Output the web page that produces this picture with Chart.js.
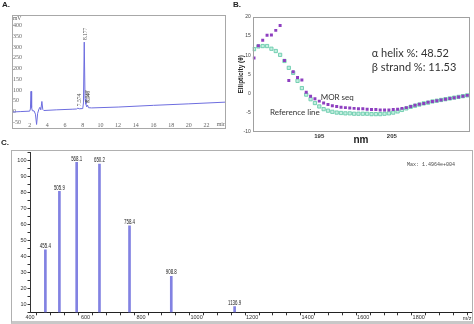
<!DOCTYPE html>
<html><head><meta charset="utf-8">
<script src="https://cdn.jsdelivr.net/npm/chart.js@4"></script>
<style>
html,body{margin:0;padding:0;background:#fff;}
#wrap{position:relative;width:474px;height:324px;overflow:hidden;background:#fff;}
canvas{position:absolute;}
.lbl{position:absolute;font:bold 8px "Liberation Sans",Arial,sans-serif;color:#222;line-height:8px;}
#frameC{position:absolute;left:11px;top:150px;width:460px;height:170px;border:1px solid #b0b0b0;border-bottom:3px solid #c8c8c8;}
</style></head><body>
<div id="wrap">
<div id="frameC"></div>
<canvas id="cA" width="232" height="140" style="left:0;top:0"></canvas>
<canvas id="cB" width="242" height="150" style="left:232px;top:0"></canvas>
<canvas id="cC" width="474" height="178" style="left:0;top:146px"></canvas>
<div class="lbl" style="left:2px;top:1px">A.</div>
<div class="lbl" style="left:233px;top:1px">B.</div>
<div class="lbl" style="left:1px;top:139px">C.</div>
</div>
<script>
// ---------- Panel A: HPLC chromatogram ----------
const hplcTime   = [0, 1, 2, 2.08, 2.15, 2.22, 2.3, 2.5, 2.65, 2.78, 2.9, 3.05, 3.16, 3.26, 3.38, 3.48, 3.6, 5, 6.8, 7.3, 7.45, 7.6, 8.0, 8.08, 8.17, 8.26, 8.36, 8.45, 8.54, 8.65, 9, 12, 16, 20, 24.2];
const hplcSignal = [-2, 0, 2, 12, 94, 18, 4, 3, -12, -60, -8, 12, 20, 8, 47, 10, 5, 8, 11, 12, 16, 13, 14, 40, 323, 60, 34, 22, 30, 18, 17, 21, 29, 36, 44];
const hplcPeakTimes  = [7.45, 8.17, 8.36, 8.54];
const hplcPeakLabels = ['7.574', '8.177', '8.367', '8.548'];
const hplcYTicks = [-50, 0, 50, 100, 150, 200, 250, 300, 350, 400];
const hplcXTicks = [2, 4, 6, 8, 10, 12, 14, 16, 18, 20, 22];

// ---------- Panel B: CD spectrum ----------
const cdWavelength = [186.0,186.6,187.2,187.8,188.4,189.0,189.6,190.2,190.8,191.4,192.0,192.6,193.2,193.8,194.4,195.0,195.6,196.2,196.8,197.4,198.0,198.6,199.2,199.8,200.4,201.0,201.6,202.2,202.8,203.4,204.0,204.6,205.2,205.8,206.4,207.0,207.6,208.2,208.8,209.4,210.0,210.6,211.2,211.8,212.4,213.0,213.6,214.2,214.8,215.4];
const cdMorSeq = [9.3,12.5,13.9,15.2,15.3,16.5,17.8,8.6,3.4,5.7,4.2,3.5,0.3,-0.7,-1.4,-2.0,-2.5,-2.9,-3.2,-3.4,-3.6,-3.7,-3.8,-3.9,-4.0,-4.0,-4.1,-4.2,-4.2,-4.3,-4.3,-4.3,-4.2,-4.1,-3.9,-3.7,-3.4,-3.1,-2.8,-2.6,-2.3,-2.1,-1.9,-1.7,-1.5,-1.3,-1.1,-0.9,-0.7,-0.5];
const cdReference = [11.6,12.3,12.4,12.4,11.7,11.1,10.1,8.5,6.7,5.4,3.3,1.4,-0.3,-1.5,-2.5,-3.4,-4.1,-4.5,-4.8,-5.0,-5.1,-5.2,-5.2,-5.3,-5.3,-5.3,-5.3,-5.4,-5.4,-5.4,-5.3,-5.2,-5.0,-4.7,-4.3,-3.9,-3.5,-3.2,-2.9,-2.6,-2.4,-2.1,-1.9,-1.7,-1.5,-1.3,-1.1,-0.9,-0.7,-0.5];
const cdXTicks = [195, 205];
const cdSeriesNames = ['MOR seq', 'Reference line'];
const cdNotes = ['\u03b1 helix %: 48.52', '\u03b2 strand %: 11.53'];

// ---------- Panel C: mass spectrum ----------
const msMz = [455.4, 505.9, 568.1, 650.2, 758.4, 908.8, 1136.9];
const msIntensity = [44, 80.5, 98.5, 97.5, 59, 27.5, 8.5];
const msMaxText = 'Max: 1.4964e+004';

Chart.defaults.animation = false;
Chart.defaults.responsive = false;
Chart.defaults.devicePixelRatio = 1;
Chart.defaults.plugins.legend.display = false;
Chart.defaults.plugins.tooltip.enabled = false;

function frame(color){
  return {id:'frame', afterDraw(c){const a=c.chartArea,x=c.ctx;x.save();x.strokeStyle=color;x.lineWidth=1;x.strokeRect(Math.round(a.left)+0.5,Math.round(a.top)+0.5,Math.round(a.right-a.left)-1,Math.round(a.bottom-a.top)-1);x.restore();}};
}

// Panel A
new Chart(document.getElementById('cA'), {
  type: 'scatter',
  data: { datasets: [{
    data: hplcTime.map((t,i)=>({x:t,y:hplcSignal[i]})),
    showLine: true, pointRadius: 0, borderColor: '#6d6ddf', borderWidth: 1, tension: 0
  }]},
  options: {
    layout: {padding: {left: 12, top: 15, right: 6, bottom: 11}},
    scales: {
      x: {type:'linear', min:0, max:24.2,
        afterFit(s){s.height=0;},
        afterBuildTicks(s){s.ticks = hplcXTicks.map(v=>({value:v}));},
        grid:{display:false, drawTicks:false}, border:{display:false},
        ticks:{mirror:true, font:{family:'"Liberation Serif",serif', size:6}, color:'#666', padding:-0.4, maxRotation:0, autoSkip:false},
        title:{display:true, text:'min', align:'end', font:{family:'"Liberation Serif",serif', size:6}, color:'#666', padding:{bottom:1.4}}
      },
      y: {min:-81, max:449,
        afterFit(s){s.width=0;},
        afterBuildTicks(s){s.ticks = hplcYTicks.map(v=>({value:v}));},
        grid:{display:false, drawTicks:false}, border:{display:false},
        ticks:{mirror:true, padding:1, font:{family:'"Liberation Serif",serif', size:6}, color:'#666', autoSkip:false}
      }
    }
  },
  plugins: [frame('#a8a8a8'), {id:'aText', afterDraw(c){
    const x=c.ctx, xs=c.scales.x, ys=c.scales.y;
    x.save();
    x.fillStyle='#555'; x.font='5.5px "Liberation Serif",serif'; x.textBaseline='middle';
    x.fillText('mV', 13, 18.5);
    hplcPeakTimes.forEach((t,k)=>{
      const i = hplcTime.indexOf(t);
      const px = xs.getPixelForValue(t), py = ys.getPixelForValue(hplcSignal[i]);
      x.save(); x.translate(px+1.5, py-2); x.rotate(-Math.PI/2);
      x.textAlign='left'; x.textBaseline='middle'; x.fillText(hplcPeakLabels[k],0,0); x.restore();
    });
    x.restore();
  }}]
});

// Panel B
new Chart(document.getElementById('cB'), {
  type: 'scatter',
  data: { datasets: [
    {label: cdSeriesNames[0], data: cdWavelength.map((w,i)=>({x:w,y:cdMorSeq[i]})),
     pointStyle:'rect', pointRadius:2.1, backgroundColor:'#8e3fc0', borderColor:'#8e3fc0', borderWidth:0},
    {label: cdSeriesNames[1], data: cdWavelength.map((w,i)=>({x:w,y:cdReference[i]})),
     pointStyle:'rect', pointRadius:2.3, backgroundColor:'#c4efe0', borderColor:'#5cc7a4', borderWidth:0.8}
  ]},
  options: {
    layout: {padding: {left: 2, top: 17, right: 2.5, bottom: 0}},
    scales: {
      x: {type:'linear', min:185.82, max:215.67,
        afterFit(s){s.height=18.3;},
        afterBuildTicks(s){s.ticks = cdXTicks.map(v=>({value:v}));},
        grid:{display:false, drawTicks:false}, border:{display:false},
        ticks:{font:{family:'"Liberation Sans",sans-serif', size:6, weight:'bold'}, color:'#333', padding:0.7, maxRotation:0, autoSkip:false},
        title:{display:true, text:'nm', font:{family:'"Liberation Sans",sans-serif', size:10, weight:'bold'}, color:'#222', padding:{bottom:4}}
      },
      y: {min:-10, max:20,
        afterFit(s){s.width=18.7;},
        grid:{display:false, drawTicks:false}, border:{display:false},
        ticks:{stepSize:5, padding:2, font:{family:'"Liberation Sans",sans-serif', size:5}, color:'#444'},
        title:{display:true, text:'Ellipticity (\u03b8)', font:{family:'"Liberation Sans",sans-serif', size:6.5, weight:'bold'}, color:'#222', padding:{top:3.1}}
      }
    }
  },
  plugins: [frame('#a0a0a0'), {id:'bText', afterDraw(c){
    const x=c.ctx; x.save();
    x.fillStyle='#333'; x.textBaseline='middle';
    x.font='11px Lato,"Open Sans",sans-serif';
    x.fillText(cdNotes[0], 139.7, 53.3);
    x.fillText(cdNotes[1], 139.7, 67.3);
    x.font='8px Lato,"Open Sans",sans-serif';
    x.fillText(cdSeriesNames[0], 88.7, 97.3);
    x.fillText(cdSeriesNames[1], 38, 112.7);
    x.restore();
  }}]
});

// Panel C
new Chart(document.getElementById('cC'), {
  type: 'bar',
  data: { datasets: [{
    data: msMz.map((m,i)=>({x:m,y:msIntensity[i]})),
    backgroundColor:'#8282e2', barThickness:2
  }]},
  options: {
    layout: {padding: {left: 11, top: 6, right: 2.5, bottom: 0}},
    scales: {
      x: {type:'linear', min:400, max:1990, offset:false,
        afterFit(s){s.height=11.7;},
        grid:{display:true, drawOnChartArea:false, tickLength:3, color:'#333'},
        border:{display:true, color:'#222', width:1},
        ticks:{stepSize:50, includeBounds:false, autoSkip:false, maxRotation:0, padding:-1.5,
          font:{family:'"Liberation Sans",sans-serif', size:5.5}, color:'#333',
          callback:v=> (v%200===0 ? String(v) : '')},
        title:{display:true, text:'m/z', align:'end', font:{family:'"Liberation Sans",sans-serif', size:5.5}, color:'#333', padding:{bottom:2.4}}
      },
      y: {min:5, max:105,
        afterFit(s){s.width=19;},
        grid:{display:true, drawOnChartArea:false, tickLength:2.5, color:'#333'},
        border:{display:true, color:'#333', width:1, dash:[2,1]},
        ticks:{stepSize:5, includeBounds:false, autoSkip:false, padding:1,
          font:{family:'"Liberation Sans",sans-serif', size:5.5}, color:'#333',
          callback:v=> (v%10===0 && v<=100 ? String(v) : '')}
      }
    }
  },
  plugins: [{id:'cText', afterDraw(c){
    const x=c.ctx, xs=c.scales.x, ys=c.scales.y; x.save();
    x.fillStyle='#222'; x.textAlign='center'; x.textBaseline='bottom';
    x.font='6.5px "Liberation Sans",sans-serif';
    msMz.forEach((m,i)=>{
      const px = xs.getPixelForValue(m), py = ys.getPixelForValue(msIntensity[i]) - 0.3;
      x.save(); x.translate(px, py); x.scale(0.68, 1); x.fillText(m.toFixed(1), 0, 0); x.restore();
    });
    x.textAlign='left'; x.textBaseline='middle'; x.fillStyle='#444';
    x.font='5px "Liberation Mono",monospace';
    x.fillText(msMaxText, 407, 19);
    x.restore();
  }}]
});
</script>
</body></html>
